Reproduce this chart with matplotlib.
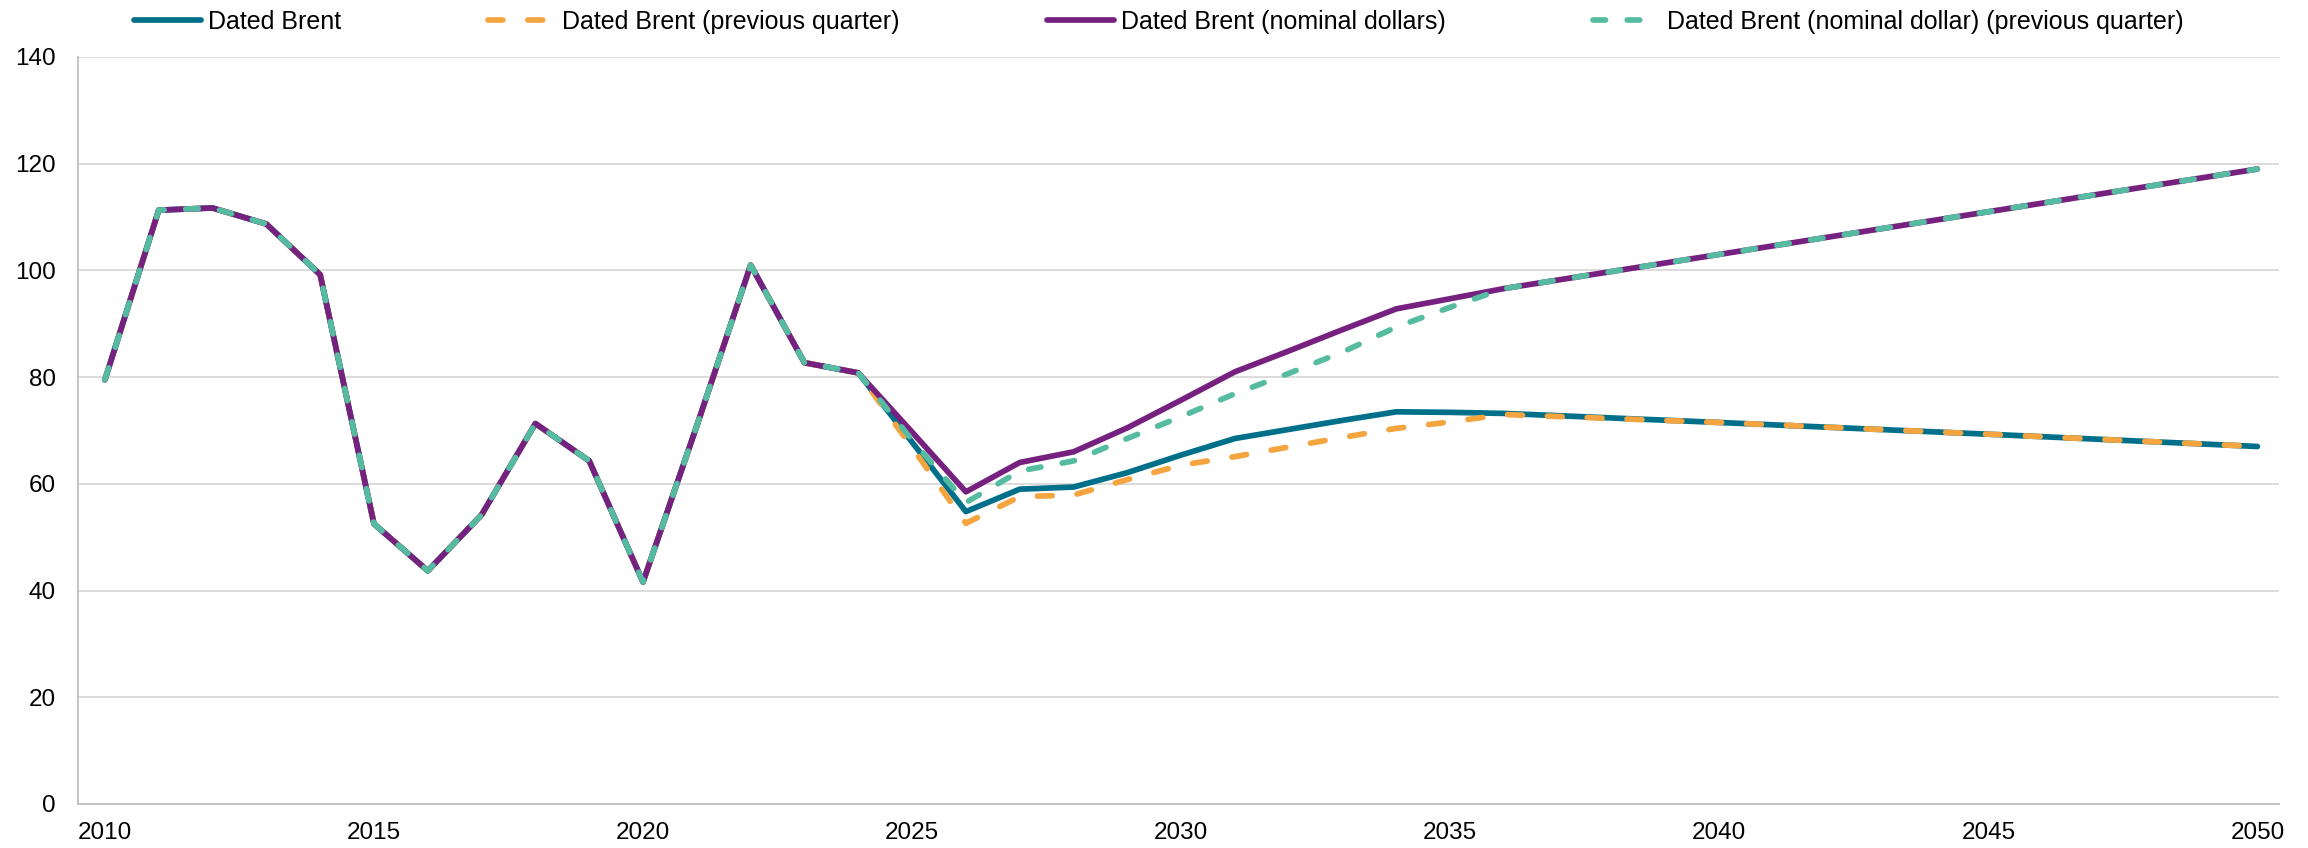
"""
Dated Brent price outlook: real vs nominal dollars, current vs previous quarter.
"""

import matplotlib
matplotlib.use("Agg")
import matplotlib.pyplot as plt

plt.rcParams['font.family'] = ['Liberation Sans', 'DejaVu Sans']

# years with a read-off value (yearly to 2036, then the straight tail)
years = list(range(2010, 2037)) + [2040, 2045, 2050]

history = [79.5, 111.3, 111.7, 108.7, 99.2, 52.5, 43.7, 54.2, 71.3, 64.3,
           41.6, 70.9, 101.0, 82.7, 80.8]

dated_brent = history + [67.8, 54.8, 59.0, 59.4, 62.1, 65.4, 68.5, 70.2, 71.9,
                         73.5, 73.4, 73.2, 71.5, 69.3, 67.0]
dated_brent_prev = history + [66.8, 52.6, 57.6, 57.9, 60.8, 63.5, 65.1, 66.9,
                              68.7, 70.4, 71.6, 73.0, 71.5, 69.3, 67.0]
nominal = history + [69.7, 58.5, 64.0, 66.0, 70.5, 75.7, 81.0, 84.9, 88.9,
                     92.8, 94.7, 96.6, 103.0, 111.0, 119.0]
nominal_prev = history + [68.2, 56.5, 62.4, 64.3, 68.5, 72.6, 76.9, 80.7,
                          84.7, 89.4, 93.1, 96.6, 103.0, 111.0, 119.0]

series_labels = ['Dated Brent', 'Dated Brent (previous quarter)',
                 'Dated Brent (nominal dollars)',
                 'Dated Brent (nominal dollar) (previous quarter)']
series_colors = ['#006F89', '#F4A540', '#76217F', '#56BCA1']

x_ticks = [2010, 2015, 2020, 2025, 2030, 2035, 2040, 2045, 2050]
y_ticks = [0, 20, 40, 60, 80, 100, 120, 140]

fig = plt.figure(figsize=(23.08, 8.48), dpi=100)
ax = fig.add_axes([0.0338, 0.0519, 0.9536, 0.8809])

all_series = [dated_brent, dated_brent_prev, nominal, nominal_prev]
# dash patterns (in linewidths) for the previous-quarter lines
dash_patterns = [None, (2.6, 4.4), None, (2.2, 3.8)]
for vals, lab, col, dash in zip(all_series, series_labels, series_colors,
                                dash_patterns):
    kw = dict(color=col, lw=4.1, label=lab, solid_joinstyle='round',
              solid_capstyle='round')
    if dash is not None:
        kw.update(dashes=dash, dash_capstyle='round')
    ax.plot(years, vals, **kw)

ax.set_xlim(2009.5, 2050.4)
ax.set_ylim(0, 140)
ax.set_xticks(x_ticks)
ax.set_yticks(y_ticks)
ax.tick_params(axis='both', length=0, labelsize=17.5, colors='black')
ax.tick_params(axis='y', pad=16)
ax.tick_params(axis='x', pad=13)

ax.grid(axis='y', color='#D9D9D9', lw=1.3)
ax.set_axisbelow(True)
for side in ['top', 'right']:
    ax.spines[side].set_visible(False)
for side in ['left', 'bottom']:
    ax.spines[side].set_color('#BFBFBF')
    ax.spines[side].set_linewidth(1.3)

fig.legend(loc='upper center', bbox_to_anchor=(0.502, 1.015), ncol=4,
           frameon=False, fontsize=18, handlelength=2.7, handletextpad=0.25,
           columnspacing=5.9)

fig.savefig("out.png", dpi=100)
